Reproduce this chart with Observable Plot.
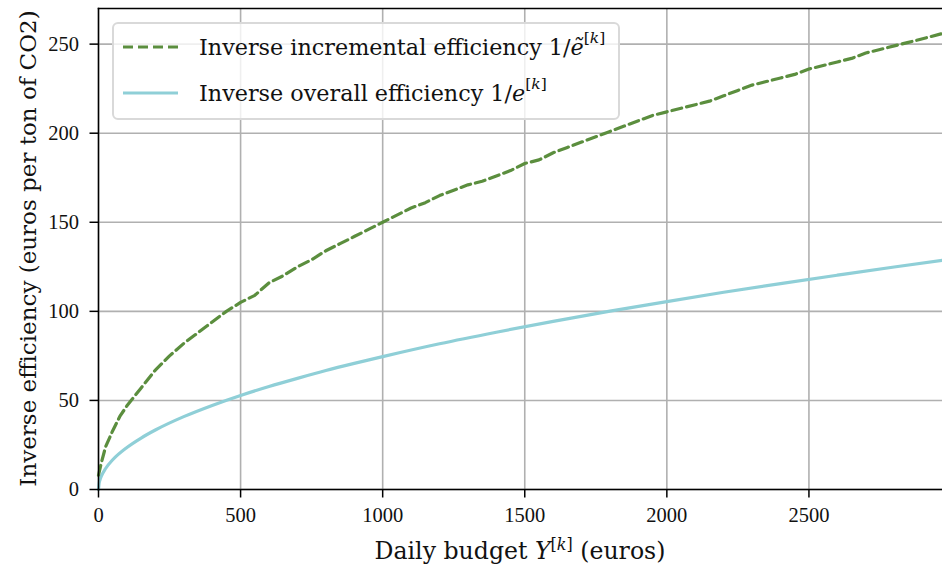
<!DOCTYPE html>
<html>
<head>
<meta charset="utf-8">
<script src="https://cdn.jsdelivr.net/npm/d3@7"></script>
<script src="https://cdn.jsdelivr.net/npm/@observablehq/plot@0.6"></script>
<style>
  html, body { margin: 0; padding: 0; background: #fff; }
  #wrap { position: relative; width: 942px; height: 567px; font-family: "DejaVu Serif", serif; }
  #legend { position: absolute; left: 112px; top: 22px; width: 508px; height: 98px; box-sizing: border-box;
    border: 2px solid #d9d9d9; border-radius: 6px; background: rgba(255,255,255,0.8); }
  .row { position: absolute; left: 0; height: 30px; display: flex; align-items: center; font-size: 22.3px; color: #111; white-space: nowrap; }
  .row svg { margin-left: 9px; margin-right: 21px; }
  sup { font-size: 15.5px; vertical-align: 0; position: relative; top: -9px; }
</style>
</head>
<body>
<div id="wrap">
  <div id="chart"></div>
  <div id="legend">
    <div class="row" style="top:7.5px"><svg width="55" height="6"><line x1="0" y1="3" x2="55" y2="3" stroke="#5b8e3e" stroke-width="3.2" stroke-dasharray="10,5"/></svg>Inverse incremental efficiency&nbsp;1/<i>ẽ</i><sup>[<i>k</i>]</sup></div>
    <div class="row" style="top:53.5px"><svg width="55" height="6"><line x1="0" y1="3" x2="55" y2="3" stroke="#8fcfd7" stroke-width="3.2"/></svg>Inverse overall efficiency&nbsp;1/<i>e</i><sup>[<i>k</i>]</sup></div>
  </div>
</div>
<script>
// Daily budget (euros) and inverse efficiencies (euros per ton of CO2)
const incBudget = [0, 10, 25, 50, 75, 100, 150, 200, 250, 300, 350, 400, 450, 500, 550, 600, 650, 700, 750, 800, 850, 900, 950, 1000, 1050, 1100, 1150, 1200, 1250, 1300, 1350, 1400, 1450, 1500, 1550, 1600, 1650, 1700, 1750, 1800, 1850, 1900, 1950, 2000, 2050, 2100, 2150, 2200, 2250, 2300, 2350, 2400, 2450, 2500, 2550, 2600, 2650, 2700, 2750, 2800, 2850, 2900, 2970];
const incValues = [8, 15, 24, 33, 41, 47, 57, 67, 75, 82, 88, 94, 100, 105, 109, 116, 120, 125, 129, 134, 138, 142, 146, 150, 154, 158, 161, 165, 168, 171, 173, 176, 179, 183, 185, 189, 192, 195, 198, 201, 204, 207, 210, 212, 214, 216, 218, 221, 224, 227, 229, 231, 233, 236, 238, 240, 242, 245, 247, 249, 251, 253, 256];
const allBudget = [0, 2, 5, 10, 25, 50, 100, 150, 200, 300, 400, 500, 600, 700, 800, 900, 1000, 1200, 1400, 1600, 1800, 2000, 2200, 2400, 2600, 2800, 2970];
const allValues = [0, 3.3, 5.3, 7.5, 11.8, 16.7, 23.6, 28.9, 33.4, 40.9, 47.2, 52.8, 57.8, 62.4, 66.8, 70.8, 74.6, 81.8, 88.3, 94.4, 100.1, 105.5, 110.7, 115.6, 120.3, 124.9, 128.6];
const xTicks = [0, 500, 1000, 1500, 2000, 2500];
const yTicks = [0, 50, 100, 150, 200, 250];

const inc = incBudget.map((x, i) => ({x, y: incValues[i]}));
const all = allBudget.map((x, i) => ({x, y: allValues[i]}));

const W = 942, H = 567, mL = 98, mR = 0, mT = 8, mB = 78;
const chart = Plot.plot({
  width: W, height: H,
  marginLeft: mL, marginRight: mR, marginTop: mT, marginBottom: mB,
  style: {fontFamily: "Liberation Serif, serif", fontSize: "20.5px", color: "#111", background: "white"},
  x: {domain: [0, 2970]},
  y: {domain: [0, 270]},
  marks: [
    Plot.gridX(xTicks, {stroke: "#b0b0b0", strokeOpacity: 1, strokeWidth: 1.6}),
    Plot.gridY(yTicks, {stroke: "#b0b0b0", strokeOpacity: 1, strokeWidth: 1.6}),
    Plot.line(all, {x: "x", y: "y", stroke: "#8fcfd7", strokeWidth: 3.2, curve: "monotone-x"}),
    Plot.line(inc, {x: "x", y: "y", stroke: "#5b8e3e", strokeWidth: 3.2, strokeDasharray: "10,5"}),
    Plot.frame({anchor: "top", stroke: "#000", strokeWidth: 1.5}),
    Plot.frame({anchor: "left", stroke: "#000", strokeWidth: 1.5}),
    Plot.frame({anchor: "bottom", stroke: "#000", strokeWidth: 1.5}),
    Plot.axisX(xTicks, {tickSize: 8.5, tickPadding: 9, tickFormat: d => String(d), label: null, stroke: "#000", strokeWidth: 1.5, fontSize: 20.5}),
    Plot.axisY(yTicks, {tickSize: 8.5, tickPadding: 11, tickFormat: d => String(d), label: null, stroke: "#000", strokeWidth: 1.5, fontSize: 20.5})
  ]
});
document.getElementById("chart").appendChild(chart);

const svg = d3.select(chart);
const xl = svg.append("text")
  .attr("x", (mL + W - mR) / 2).attr("y", 559)
  .attr("text-anchor", "middle").attr("font-family", "DejaVu Serif, serif").attr("font-size", 23.6).attr("fill", "#111");
xl.append("tspan").text("Daily budget ");
xl.append("tspan").attr("font-style", "italic").text("Y");
xl.append("tspan").attr("font-size", 16).attr("dy", -9).text("[");
xl.append("tspan").attr("font-size", 16).attr("font-style", "italic").text("k");
xl.append("tspan").attr("font-size", 16).text("]");
xl.append("tspan").attr("dy", 9).text(" (euros)");

svg.append("text")
  .attr("transform", `translate(36,${(mT + H - mB) / 2}) rotate(-90)`)
  .attr("text-anchor", "middle").attr("font-family", "DejaVu Serif, serif").attr("font-size", 23).attr("fill", "#111")
  .text("Inverse efficiency (euros per ton of CO2)");
</script>
</body>
</html>
